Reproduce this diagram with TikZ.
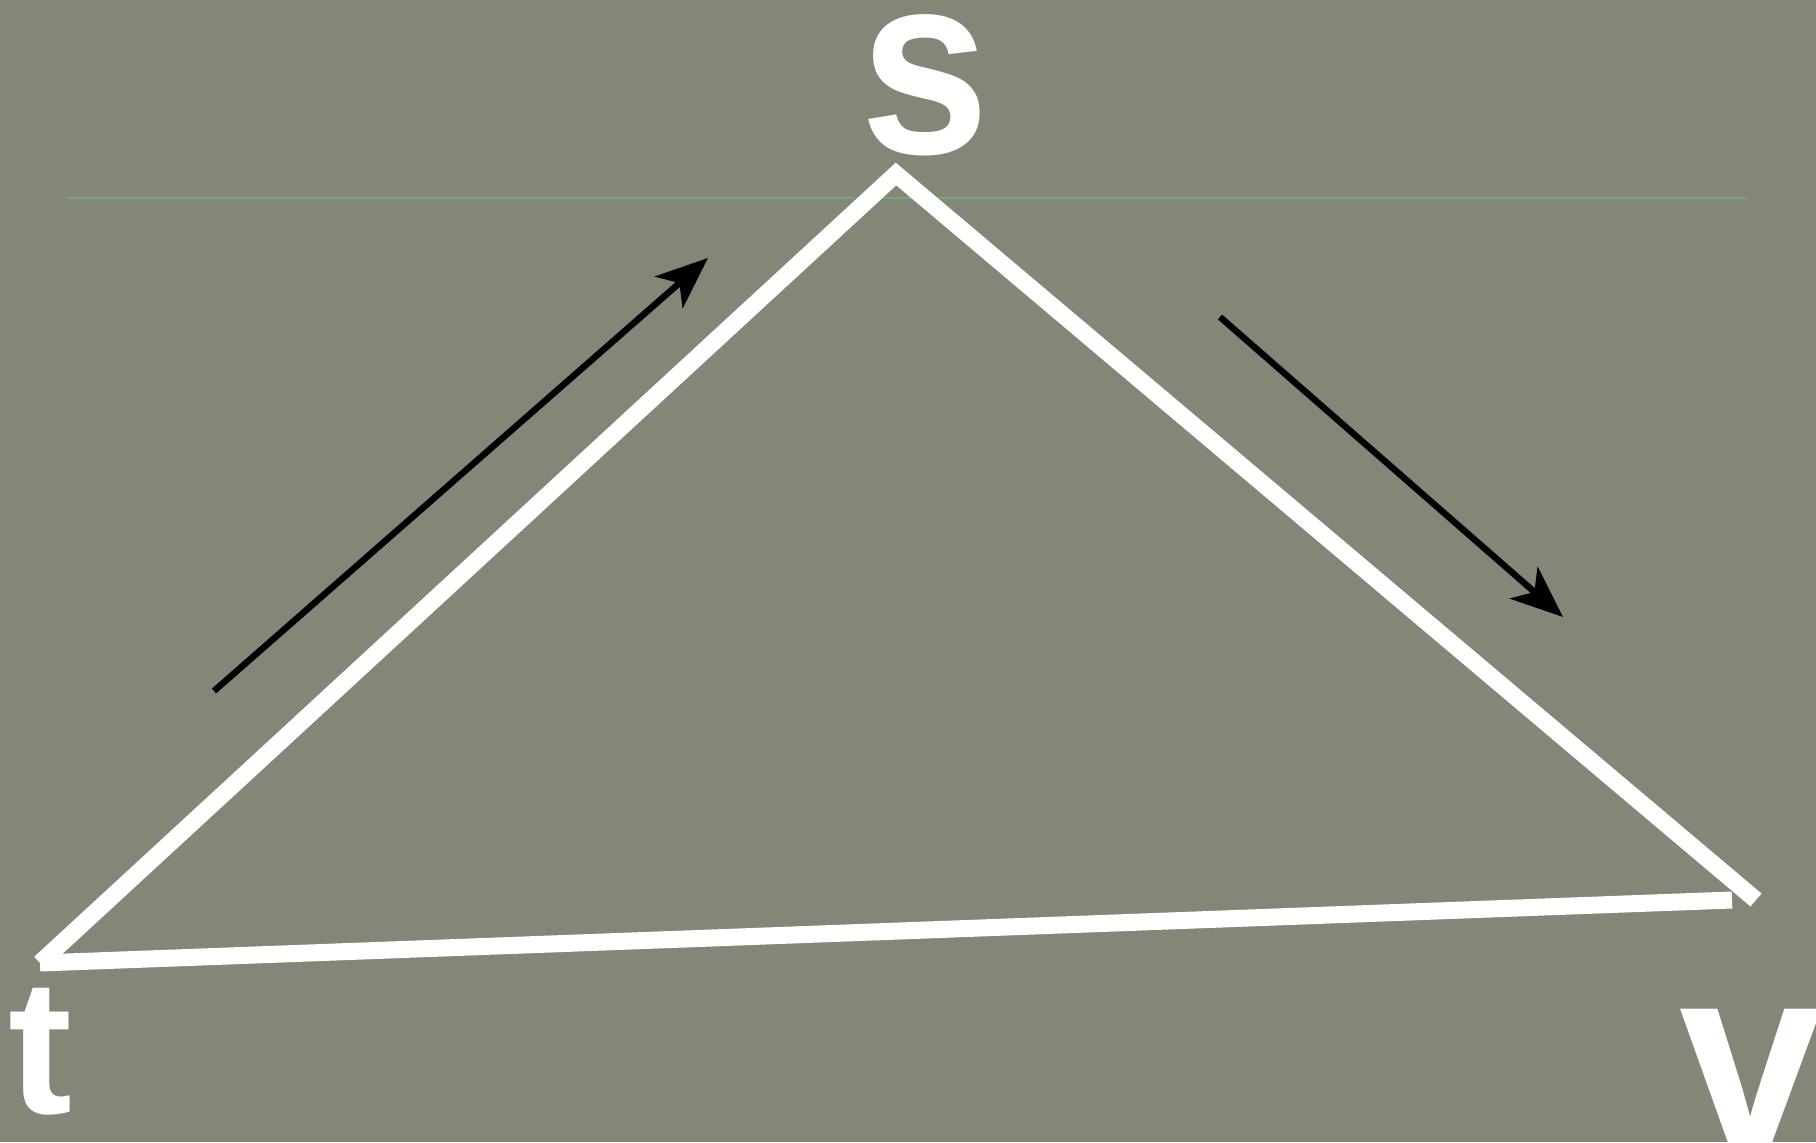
\documentclass[tikz,border=0pt]{standalone}
\usepackage{fontspec}
\setmainfont{Liberation Sans}
\usetikzlibrary{arrows.meta}
\definecolor{bg}{RGB}{131,135,119}
\definecolor{rule}{RGB}{112,168,122}
\begin{document}
\begin{tikzpicture}[x=0.5pt,y=-0.5pt,
  edge/.style={draw=white,line width=8.5pt,line join=miter},
  flow/.style={draw=black,line width=3.2pt,-{Stealth[length=26pt,width=21pt,inset=7pt]}},
  lab/.style={text=white,inner sep=0pt,anchor=base}]
\fill[bg] (0,0) rectangle (1816,1142);
\useasboundingbox (0,0) rectangle (1816,1142);
\draw[rule,line width=1.3pt] (68,198) -- (1747,198);
\coordinate (S) at (896,174);
\coordinate (T) at (40,963);
\coordinate (V) at (1756,900);
\draw[edge] (T) -- (S) -- (V);
\draw[edge] (T) -- ([xshift=-12]V);
\coordinate (a1) at (214,691);
\coordinate (a1e) at (708,258);
\coordinate (a2) at (1220,317);
\coordinate (a2e) at (1563,617);
\draw[flow] (a1) -- (a1e);
\draw[flow] (a2) -- (a2e);
\node[lab,xscale=0.9,font=\fontsize{129}{130}\selectfont\bfseries] (ls) at (925,153) {s};
\node[lab,font=\fontsize{96}{100}\selectfont\bfseries] (lt) at (40,1113) {t};
\node[lab,font=\fontsize{129}{130}\selectfont\bfseries] (lv) at (1751,1145) {v};
\end{tikzpicture}
\end{document}
